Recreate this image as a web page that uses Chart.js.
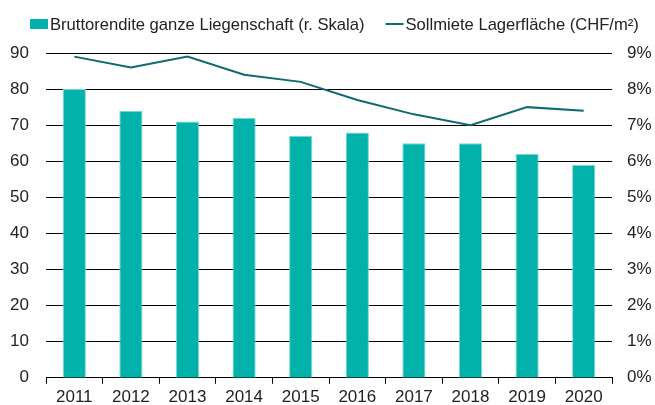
<!DOCTYPE html>
<html>
<head>
<meta charset="utf-8">
<script src="https://cdn.jsdelivr.net/npm/chart.js@4/dist/chart.umd.min.js"></script>
<style>
  html, body { margin: 0; padding: 0; background: #fff; }
  #wrap { width: 655px; height: 405px; }
</style>
</head>
<body>
<div id="wrap"><canvas id="c" width="655" height="405"></canvas></div>
<script>
// Years on the category axis
const years = ['2011', '2012', '2013', '2014', '2015', '2016', '2017', '2018', '2019', '2020'];
// Gross yield of the whole property, in percent (right scale)
const grossYield = [8.0, 7.4, 7.1, 7.2, 6.7, 6.8, 6.5, 6.5, 6.2, 5.9];
// Target rent for storage space, CHF per square metre (left scale)
const storageRent = [89, 86, 89, 84, 82, 77, 73, 70, 75, 74];
// Series names
const yieldLabel = 'Bruttorendite ganze Liegenschaft (r. Skala)';
const rentLabel = 'Sollmiete Lagerfläche (CHF/m²)';

const barColor = '#00b2a9';
const lineColor = '#0d6a70';
const textColor = '#222222';
const fontFamily = '"Liberation Sans", Arial, sans-serif';
const tickFont = { family: fontFamily, size: 17 };
const legendFontSize = 16.6;

// Legend row drawn above the plot: a swatch for the bars, a stroke for the line
const legendRow = {
  id: 'legendRow',
  afterDraw(chart) {
    const ctx = chart.ctx;
    const y = 24;
    ctx.save();
    ctx.font = legendFontSize + 'px ' + fontFamily;
    ctx.textBaseline = 'middle';
    ctx.fillStyle = textColor;
    let x = 30;
    chart.data.datasets.forEach((ds, i) => {
      if (ds.type === 'bar') {
        ctx.fillStyle = barColor;
        ctx.fillRect(x, y - 5, 18, 10);
      } else {
        ctx.strokeStyle = lineColor;
        ctx.lineWidth = 2;
        ctx.beginPath();
        ctx.moveTo(x, y);
        ctx.lineTo(x + 18, y);
        ctx.stroke();
      }
      x += 20;
      ctx.fillStyle = textColor;
      ctx.fillText(ds.label, x, y + 1);
      x += ctx.measureText(ds.label).width + 21;
    });
    ctx.restore();
  }
};

new Chart(document.getElementById('c'), {
  data: {
    labels: years,
    datasets: [
      {
        type: 'bar',
        label: yieldLabel,
        data: grossYield,
        yAxisID: 'y1',
        backgroundColor: barColor,
        borderColor: '#7dd5ce',
        borderWidth: 1,
        borderSkipped: 'bottom',
        barPercentage: 0.41,
        categoryPercentage: 1.0
      },
      {
        type: 'line',
        label: rentLabel,
        data: storageRent,
        yAxisID: 'y',
        borderColor: lineColor,
        backgroundColor: lineColor,
        borderWidth: 2,
        pointRadius: 0,
        tension: 0,
        fill: false
      }
    ]
  },
  options: {
    responsive: false,
    animation: false,
    layout: { padding: { top: 53, left: 0, right: 0, bottom: 0 } },
    plugins: {
      tooltip: { enabled: false },
      legend: { display: false }
    },
    scales: {
      x: {
        type: 'category',
        offset: true,
        grid: {
          offset: true,
          drawOnChartArea: false,
          drawTicks: true,
          tickLength: 6,
          color: '#000'
        },
        border: { display: true, color: '#000', width: 1 },
        ticks: { color: textColor, font: tickFont, padding: 3, maxRotation: 0 },
        afterFit(s) { s.height = 25; }
      },
      y: {
        position: 'left',
        min: 0,
        max: 90,
        ticks: { stepSize: 10, color: textColor, font: tickFont, padding: 17 },
        grid: { color: '#000', lineWidth: 1, drawTicks: false },
        border: { display: false },
        afterFit(s) { s.width = 46; }
      },
      y1: {
        position: 'right',
        min: 0,
        max: 9,
        ticks: {
          stepSize: 1,
          color: textColor,
          font: tickFont,
          padding: 15,
          callback: v => v + '%'
        },
        grid: { display: false, drawTicks: false },
        border: { display: false },
        afterFit(s) { s.width = 43; }
      }
    }
  },
  plugins: [legendRow]
});
</script>
</body>
</html>
